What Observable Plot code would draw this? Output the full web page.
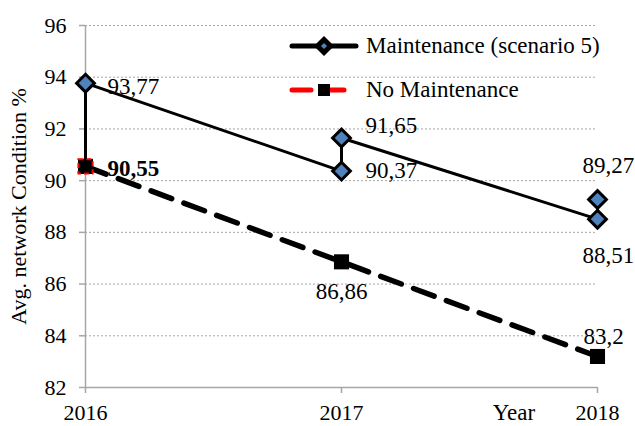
<!DOCTYPE html>
<html><head><meta charset="utf-8">
<script src="https://cdn.jsdelivr.net/npm/d3@7"></script>
<script src="https://cdn.jsdelivr.net/npm/@observablehq/plot@0.6"></script>
<style>
body{margin:0;background:#fff;}
#wrap{position:relative;width:635px;height:426px;font-family:'Liberation Serif','Times New Roman','DejaVu Serif',serif;}
#wrap svg{display:block;}
#wrap svg text{font-family:'Liberation Serif','Times New Roman','DejaVu Serif',serif !important;}
.ov{position:absolute;left:0;top:0;pointer-events:none;}
</style></head><body><div id="wrap"></div>
<script>
const years = [2016, 2017, 2018];
const maintYears = [2016, 2016, 2017, 2017, 2018, 2018];
const maintValues = [90.55, 93.77, 90.37, 91.65, 88.51, 89.27];
const noMaintValues = [90.55, 86.86, 83.2];
const yTicks = [82, 84, 86, 88, 90, 92, 94, 96];
const seriesNames = ["Maintenance (scenario 5)", "No Maintenance"];
const yLabel = "Avg. network Condition %";
const xLabel = "Year";

const fmt = v => String(v).replace(".", ",");
const maint = maintYears.map((x, i) => ({x, y: maintValues[i], label: fmt(maintValues[i])}));
const noMaint = years.map((x, i) => ({x, y: noMaintValues[i], label: fmt(noMaintValues[i])}));

// label styling per point (offsets in px)
const labelStyles = [
  {data: noMaint, i: 0, dx: 22, dy: 2, anchor: "start", weight: "bold"},
  {data: maint, i: 1, dx: 22, dy: 3, anchor: "start"},
  {data: maint, i: 2, dx: 24, dy: 0, anchor: "start"},
  {data: maint, i: 3, dx: 24, dy: -12, anchor: "start"},
  {data: maint, i: 4, dx: -15, dy: 36, anchor: "start"},
  {data: maint, i: 5, dx: -15, dy: -34, anchor: "start"},
  {data: noMaint, i: 1, dx: 0, dy: 30, anchor: "middle"},
  {data: noMaint, i: 2, dx: -14, dy: -20, anchor: "start"}
];

const FONT = "'Liberation Serif', 'Times New Roman', 'DejaVu Serif', serif";
const grid = "#a6a6a6";
const FS = 23;

const chart = Plot.plot({
  width: 635, height: 426,
  marginLeft: 85, marginRight: 38, marginTop: 25, marginBottom: 39,
  x: {domain: [2016, 2018]},
  y: {domain: [82, 96]},
  style: {fontFamily: FONT, fontSize: FS + "px", background: "white", color: "black", overflow: "visible"},
  marks: [
    Plot.ruleY(yTicks.filter(d => d > 82), {stroke: grid, strokeDasharray: "2,2", strokeWidth: 1}),
    Plot.ruleX([2016], {stroke: grid, strokeWidth: 1.5}),
    Plot.ruleY([82], {stroke: grid, strokeWidth: 1.5}),
    Plot.axisX({ticks: years, tickFormat: d => String(d), tickSize: 6, tickPadding: 11, stroke: grid, strokeWidth: 1.5, fill: "black", fontSize: 22, label: null}),
    Plot.axisY({ticks: yTicks, tickSize: 6, tickPadding: 13, stroke: grid, strokeWidth: 1.5, fill: "black", fontSize: 22,
      label: yLabel, labelAnchor: "center", labelArrow: "none", labelOffset: 75}),
    Plot.line(maint, {x: "x", y: "y", stroke: "black", strokeWidth: 3}),
    Plot.line(noMaint, {x: "x", y: "y", stroke: "black", strokeWidth: 5.5, strokeDasharray: "22,13"}),
    Plot.dot(maint.slice(1), {x: "x", y: "y", symbol: "diamond2", r: 8, fill: "#4f81bd", stroke: "black", strokeWidth: 3}),
    Plot.dot(noMaint, {x: "x", y: "y", symbol: "square", r: 8.5, fill: "black"}),
    Plot.dot(noMaint.slice(0, 1), {x: "x", y: "y", symbol: "square", r: 8, fill: "black", stroke: "red", strokeWidth: 2, strokeDasharray: "5,3"}),
    ...labelStyles.map(s => Plot.text([s.data[s.i]], {x: "x", y: "y", text: "label", dx: s.dx, dy: s.dy,
      textAnchor: s.anchor, lineAnchor: "middle", fontSize: FS, fontWeight: s.weight || "normal", fill: "black"}))
  ]
});
const wrap = document.getElementById("wrap");
wrap.appendChild(chart);

// legend + x label overlay
const ov = d3.select(wrap).append("svg").attr("class", "ov").attr("width", 635).attr("height", 426)
  .style("font-family", FONT).style("font-size", FS + "px");
const lg = ov.append("g");
// entry 1
lg.append("line").attr("x1", 292).attr("x2", 356).attr("y1", 46).attr("y2", 46)
  .attr("stroke", "black").attr("stroke-width", 5).attr("stroke-linecap", "round");
lg.append("path").attr("d", d3.symbol(d3.symbolDiamond2, 110)()).attr("transform", "translate(324,46)")
  .attr("fill", "#4f81bd").attr("stroke", "black").attr("stroke-width", 5);
lg.append("text").attr("x", 366).attr("y", 46).attr("dy", "0.32em").text(seriesNames[0]);
// entry 2
lg.append("line").attr("x1", 292).attr("x2", 354).attr("y1", 90).attr("y2", 90)
  .attr("stroke", "red").attr("stroke-width", 5).attr("stroke-linecap", "round").attr("stroke-dasharray", "19,14");
lg.append("rect").attr("x", 318).attr("y", 84).attr("width", 12).attr("height", 12).attr("fill", "black");
lg.append("text").attr("x", 366).attr("y", 90).attr("dy", "0.32em").text(seriesNames[1]);
// x axis title
ov.append("text").attr("x", 514).attr("y", 413).attr("dy", "0.32em").attr("text-anchor", "middle").text(xLabel);
</script></body></html>
